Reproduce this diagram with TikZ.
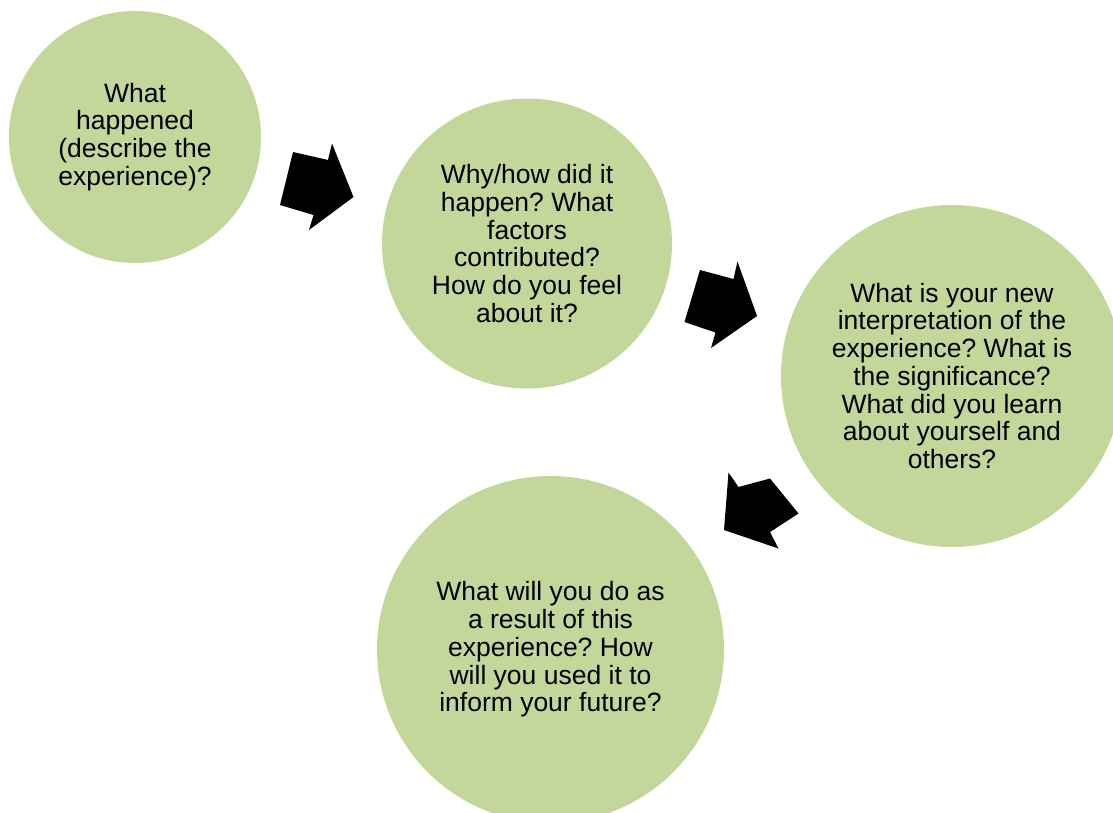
\documentclass[tikz,border=0pt]{standalone}
\usepackage{fontspec}
\setmainfont{Liberation Sans}
\frenchspacing
\definecolor{cgreen}{RGB}{196,215,155}
\tikzset{
  bubble/.style={circle, fill=cgreen, draw=none, inner sep=0pt, align=center,
    font=\fontsize{26.5}{27.75}\selectfont\frenchspacing, text=black},
  blockarrow/.style={fill=black, draw=none}
}
\begin{document}
\begin{tikzpicture}[x=1pt,y=-1pt]
\useasboundingbox (0,0) rectangle (1113,812);
\clip (0,0) rectangle (1113,812);
\node[bubble, minimum size=252pt] (c1) at (135,137) {What\\happened\\(describe the\\experience)?};
\node[bubble, minimum size=290pt] (c2) at (527,243.5) {Why/how did it\\happen? What\\factors\\contributed?\\How do you feel\\about it?};
\node[bubble, minimum size=342pt] (c3) at (952,376) {What is your new\\interpretation of the\\experience? What is\\the significance?\\What did you learn\\about yourself and\\others?};
\node[bubble, minimum size=347pt] (c4) at (550.5,649.5) {What will you do as\\a result of this\\experience? How\\will you used it to\\inform your future?};
\fill[blockarrow] (293,152) -- (328,160) -- (332,143.5) -- (353.5,197) -- (309,230) -- (313.5,215) -- (280,205) -- cycle;
\fill[blockarrow] (700,270) -- (733.5,279) -- (737.5,261.5) -- (757,316) -- (711,348) -- (715.5,332.5) -- (684.5,322) -- cycle;
\fill[blockarrow] (770,478.5) -- (798.5,513.5) -- (770,532) -- (778.5,548.5) -- (724,530) -- (728.5,472.5) -- (738.5,487) -- cycle;
\end{tikzpicture}
\end{document}
